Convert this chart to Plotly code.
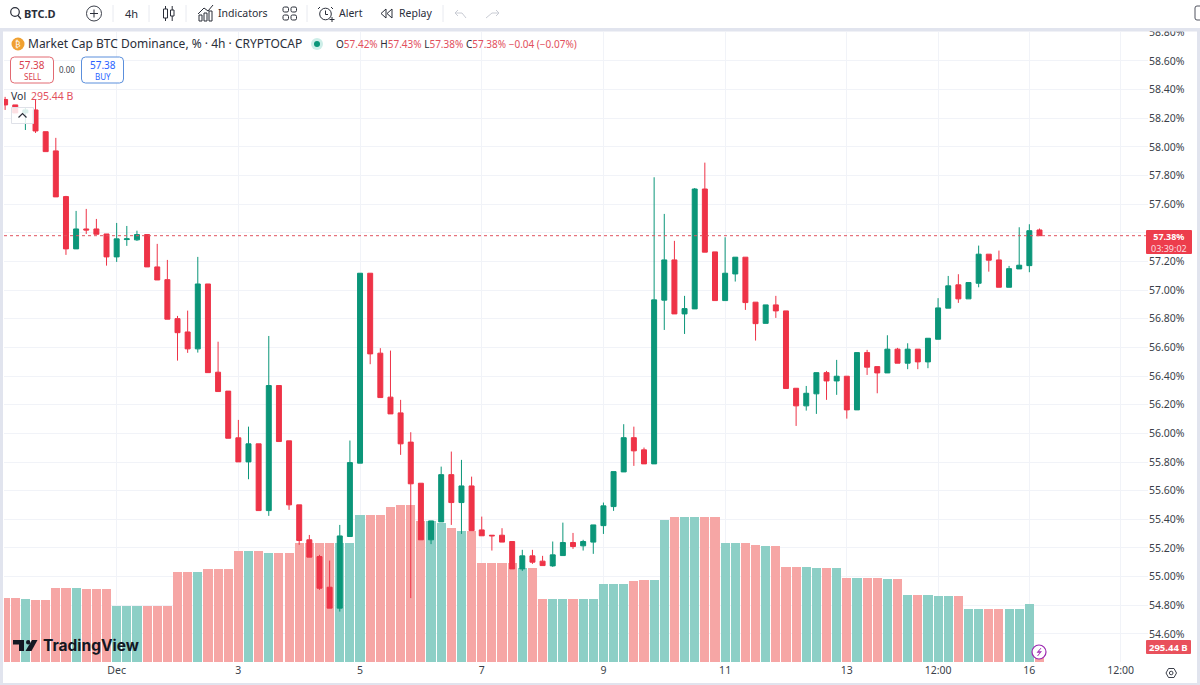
import plotly.graph_objects as go
import pandas as pd

W, H = 1200, 685

# 4h candles, first one 29 Nov 04:00, last one 16 Dec 04:00
times = pd.date_range("2024-11-29 04:00", periods=103, freq="4h")

opens = [58.331, 58.293, 58.237, 58.258, 58.106, 57.972, 57.653, 57.288, 57.427, 57.427, 57.392,
         57.232, 57.353, 57.351, 57.388, 57.162, 57.073, 56.801, 56.708, 56.590, 57.043, 56.427, 56.295,
         55.969, 55.801, 55.927, 55.461, 56.334, 55.948, 55.501, 55.257, 55.140, 54.926, 54.780, 55.280,
         55.792, 57.118, 56.560, 56.253, 56.143, 55.939, 55.652, 55.257, 55.382, 55.712, 55.517, 55.633,
         55.326, 55.289, 55.289, 55.245, 55.054, 55.145, 55.108, 55.075, 55.147, 55.238, 55.215, 55.241,
         55.356, 55.489, 55.731, 55.970, 55.885, 55.787, 56.930, 57.211, 56.834, 56.869, 57.706, 57.267,
         56.927, 57.113, 57.230, 56.916, 56.768, 56.897, 56.855, 56.315, 56.192, 56.276, 56.424, 56.366,
         56.399, 56.164, 56.564, 56.466, 56.422, 56.588, 56.490, 56.588, 56.499, 56.657, 56.874, 57.037,
         56.939, 57.048, 57.251, 57.211, 57.020, 57.148, 57.171, 57.420]
highs = [58.349, 58.293, 58.272, 58.328, 58.106, 58.063, 57.658, 57.553, 57.567, 57.497, 57.392,
         57.469, 57.448, 57.415, 57.388, 57.323, 57.211, 56.820, 56.857, 57.232, 57.043, 56.640, 56.295,
         56.094, 56.047, 55.927, 56.680, 56.334, 55.948, 55.501, 55.291, 55.152, 55.112, 55.361, 55.950,
         57.118, 57.118, 56.595, 56.578, 56.234, 56.008, 55.652, 55.389, 55.768, 55.873, 55.815, 55.698,
         55.419, 55.289, 55.338, 55.245, 55.187, 55.187, 55.145, 55.245, 55.377, 55.305, 55.257, 55.361,
         55.517, 55.733, 56.064, 56.047, 55.901, 57.788, 57.532, 57.344, 56.960, 57.713, 57.890, 57.267,
         57.369, 57.230, 57.230, 56.916, 56.897, 56.960, 56.855, 56.315, 56.331, 56.424, 56.436, 56.513,
         56.399, 56.564, 56.583, 56.466, 56.685, 56.597, 56.629, 56.588, 56.664, 56.944, 57.099, 57.111,
         57.053, 57.311, 57.251, 57.276, 57.169, 57.439, 57.460, 57.430]
lows = [58.258, 58.237, 58.118, 58.097, 57.967, 57.651, 57.246, 57.288, 57.392, 57.390, 57.171,
        57.197, 57.309, 57.344, 57.162, 57.071, 56.797, 56.508, 56.562, 56.564, 56.424, 56.292, 55.966,
        55.801, 55.680, 55.461, 55.424, 55.943, 55.466, 55.222, 55.136, 54.908, 54.780, 54.756, 55.280,
        55.792, 56.483, 56.250, 56.136, 55.850, 54.850, 55.257, 55.227, 55.382, 55.361, 55.298, 55.321,
        55.285, 55.182, 55.241, 55.054, 55.040, 55.089, 55.077, 55.068, 55.147, 55.194, 55.182, 55.159,
        55.298, 55.459, 55.731, 55.773, 55.787, 55.787, 56.722, 56.834, 56.694, 56.869, 57.265, 56.927,
        56.927, 57.060, 56.862, 56.648, 56.768, 56.806, 56.313, 56.052, 56.159, 56.136, 56.234, 56.269,
        56.103, 56.164, 56.408, 56.280, 56.422, 56.490, 56.448, 56.448, 56.455, 56.657, 56.874, 56.911,
        56.939, 57.020, 57.129, 57.020, 57.020, 57.148, 57.125, 57.380]
closes = [58.293, 58.237, 58.258, 58.111, 57.967, 57.651, 57.288, 57.427, 57.420, 57.390, 57.232,
          57.358, 57.358, 57.388, 57.162, 57.071, 56.797, 56.703, 56.590, 57.043, 56.424, 56.292, 55.966,
          55.801, 55.927, 55.461, 56.334, 55.943, 55.501, 55.252, 55.136, 54.919, 54.780, 55.284, 55.796,
          57.118, 56.555, 56.250, 56.136, 55.927, 55.648, 55.257, 55.389, 55.712, 55.517, 55.633, 55.321,
          55.285, 55.285, 55.241, 55.054, 55.145, 55.101, 55.077, 55.152, 55.238, 55.210, 55.245, 55.361,
          55.494, 55.733, 55.970, 55.878, 55.787, 56.932, 57.211, 56.834, 56.871, 57.706, 57.265, 56.927,
          57.118, 57.230, 56.913, 56.766, 56.897, 56.855, 56.313, 56.192, 56.280, 56.424, 56.366, 56.399,
          56.164, 56.564, 56.462, 56.422, 56.588, 56.490, 56.588, 56.499, 56.664, 56.876, 57.030, 56.939,
          57.053, 57.251, 57.209, 57.020, 57.150, 57.174, 57.415, 57.380]
# volume in billions
volumes = [1255, 1255, 1241, 1221, 1221, 1458, 1458, 1458, 1438, 1438, 1438,
           1097, 1097, 1097, 1097, 1097, 1097, 1773, 1773, 1773, 1826, 1838, 1838,
           2181, 2181, 2181, 2147, 2147, 2147, 2338, 2338, 2338, 2338, 2338, 2338,
           2896, 2896, 2896, 3054, 3093, 3093, 2778, 2778, 2744, 2634, 2587, 2587,
           1944, 1944, 1944, 1944, 1852, 1858, 1247, 1247, 1247, 1235, 1235, 1235,
           1537, 1537, 1537, 1596, 1609, 1609, 2803, 2851, 2851, 2862, 2862, 2862,
           2338, 2338, 2338, 2305, 2291, 2291, 1872, 1872, 1872, 1852, 1852, 1852,
           1655, 1655, 1655, 1655, 1635, 1635, 1314, 1314, 1314, 1300, 1300, 1300,
           1050, 1050, 1050, 1050, 1050, 1050, 1143, 295.44]

date_ticks = ["2024-12-01", "2024-12-03", "2024-12-05", "2024-12-07", "2024-12-09", "2024-12-11",
              "2024-12-13", "2024-12-14 12:00", "2024-12-16", "2024-12-17 12:00"]
date_labels = ["Dec", "3", "5", "7", "9", "11", "13", "12:00", "16", "12:00"]

price_ticks = [54.6, 54.8, 55.0, 55.2, 55.4, 55.6, 55.8, 56.0, 56.2, 56.4, 56.6, 56.8,
               57.0, 57.2, 57.4, 57.6, 57.8, 58.0, 58.2, 58.4, 58.6, 58.8]
# 57.40 sits under the last price tag in the reference
price_labels = ["54.60%", "54.80%", "55.00%", "55.20%", "55.40%", "55.60%", "55.80%", "56.00%", "56.20%",
                "56.40%", "56.60%", "56.80%", "57.00%", "57.20%", "", "57.60%", "57.80%", "58.00%", "58.20%",
                "58.40%", "58.60%", "58.80%"]

RED = "#ee3347"
GREEN = "#0b9679"
RED_VOL = "#f6a6a5"
GREEN_VOL = "#8dcfc6"
GRID = "#f1f3f8"
BAND = "#e1e4ee"
INK = "#2a2e39"


def px(x):
    return x / W


def py(y):
    return 1 - y / H


shapes = []
notes = []


def rect(x0, y0, x1, y1, fill="rgba(0,0,0,0)", line=None, lw=1, radius=0):
    if radius:
        r = radius
        d = (f"M{px(x0 + r)},{py(y0)} L{px(x1 - r)},{py(y0)} Q{px(x1)},{py(y0)} {px(x1)},{py(y0 + r)} "
             f"L{px(x1)},{py(y1 - r)} Q{px(x1)},{py(y1)} {px(x1 - r)},{py(y1)} L{px(x0 + r)},{py(y1)} "
             f"Q{px(x0)},{py(y1)} {px(x0)},{py(y1 - r)} L{px(x0)},{py(y0 + r)} Q{px(x0)},{py(y0)} {px(x0 + r)},{py(y0)} Z")
        shapes.append(dict(type="path", xref="paper", yref="paper", path=d, fillcolor=fill,
                           line=dict(color=line or "rgba(0,0,0,0)", width=lw)))
    else:
        shapes.append(dict(type="rect", xref="paper", yref="paper", x0=px(x0), y0=py(y0), x1=px(x1), y1=py(y1),
                           fillcolor=fill, line=dict(color=line or "rgba(0,0,0,0)", width=lw if line else 0)))


def circle(cx, cy, r, fill="rgba(0,0,0,0)", line=None, lw=1):
    shapes.append(dict(type="circle", xref="paper", yref="paper", x0=px(cx - r), y0=py(cy - r),
                       x1=px(cx + r), y1=py(cy + r), fillcolor=fill,
                       line=dict(color=line or "rgba(0,0,0,0)", width=lw if line else 0)))


def poly(points, color=INK, lw=1, fill="rgba(0,0,0,0)", closed=False):
    d = "M" + " L".join(f"{px(x)},{py(y)}" for x, y in points)
    if closed:
        d += " Z"
    shapes.append(dict(type="path", xref="paper", yref="paper", path=d, fillcolor=fill,
                       line=dict(color=color, width=lw)))


def label(x, y, text, size=11, color=INK, anchor="left", font="Noto Sans"):
    notes.append(dict(xref="paper", yref="paper", x=px(x), y=py(y), text=text, showarrow=False,
                      xanchor=anchor, yanchor="middle", borderpad=0, borderwidth=0,
                      font=dict(size=size, color=color, family=font)))


fig = go.Figure()

fig.add_trace(go.Bar(
    x=times, y=volumes, yaxis="y", width=12960000, hoverinfo="skip", showlegend=False,
    marker=dict(color=[GREEN_VOL if c >= o else RED_VOL for o, c in zip(opens, closes)], line=dict(width=0)),
))
fig.add_trace(go.Candlestick(
    x=times, open=opens, high=highs, low=lows, close=closes, yaxis="y2", showlegend=False, hoverinfo="skip",
    whiskerwidth=0,
    increasing=dict(line=dict(color=GREEN, width=1), fillcolor=GREEN),
    decreasing=dict(line=dict(color=RED, width=1), fillcolor=RED),
))

# last price line
shapes.append(dict(type="line", xref="paper", yref="y2", x0=px(4), x1=px(1146), y0=closes[-1], y1=closes[-1],
                   line=dict(color="#e0535f", width=1, dash="dot")))

# frame and toolbar, these also hide the clipped top tick
rect(0, 0, 1200, 28, fill="white")
rect(0, 28, 1200, 31.5, fill=BAND)
rect(0, 28, 3, 685, fill=BAND)
rect(1197, 28, 1200, 685, fill=BAND)
rect(0, 683, 1200, 685, fill=BAND)
rect(1195, 6, 1204, 20, line="#50535e", lw=1, radius=2)

for x in [113, 149, 186, 307, 443]:
    poly([(x, 5), (x, 22)], color="#e8eaf0", lw=1)

# search
circle(15, 12, 4.3, line=INK, lw=1.2)
poly([(18, 15.5), (21, 19)], lw=1.2)
label(24, 13, "<b>BTC.D</b>", size=11)
# add symbol
circle(94, 13.5, 7.5, line="#3b3f4a", lw=1)
poly([(94, 9.5), (94, 17.5)])
poly([(90, 13.5), (98, 13.5)])
label(131, 13.5, "4h", size=11, anchor="center")
# candle type
rect(163.5, 9, 167.5, 18, line=INK)
poly([(165.5, 6), (165.5, 9)])
poly([(165.5, 18), (165.5, 21)])
rect(170.5, 10, 174, 16, line=INK)
poly([(172.2, 6), (172.2, 10)])
poly([(172.2, 16), (172.2, 21)])
# indicators
poly([(198, 14), (204, 8), (208, 11), (213, 5)], lw=1)
rect(199, 15, 202, 21, line=INK)
rect(204, 13, 207, 21, line=INK)
rect(209, 11, 212, 21, line=INK)
label(218, 13.5, "Indicators", size=10.5)
# layouts
for gx, gy in [(283, 7), (291, 7), (283, 15), (291, 15)]:
    rect(gx, gy, gx + 5.5, gy + 5, line=INK, radius=1.5)
# alert
circle(325.5, 14, 5.8, line=INK)
poly([(325.5, 10.5), (325.5, 14.5), (328, 14.5)])
poly([(320, 7), (318, 9)])
poly([(331, 7), (333, 9)])
poly([(332, 17), (332, 22)])
poly([(329.5, 19.5), (334.5, 19.5)])
label(339, 13.5, "Alert", size=10.5)
# replay
poly([(386, 9), (381, 13.5), (386, 18)], closed=True)
poly([(392, 9), (387, 13.5), (392, 18)], closed=True)
label(399, 13.5, "Replay", size=10.5)
# undo, redo
poly([(458, 10), (455, 13), (458, 16)], color="#c9ccd4")
poly([(455, 13), (462, 13), (466, 18)], color="#c9ccd4")
poly([(496, 10), (499, 13), (496, 16)], color="#c9ccd4")
poly([(499, 13), (492, 13), (486, 18)], color="#c9ccd4")

# legend line
circle(18, 44, 6.5, fill="#f0a030")
label(18, 44, "₿", size=8, color="white", anchor="center", font="DejaVu Sans")
label(28, 44, "Market Cap BTC Dominance, % · 4h · CRYPTOCAP", size=12)
circle(317, 44, 6, fill="#cdeee8")
circle(317, 44, 3, fill="#0b9679")
ohlc_red = "#e2505d"
label(336, 44,
      f'O<span style="color:{ohlc_red}">57.42%</span> H<span style="color:{ohlc_red}">57.43%</span> '
      f'L<span style="color:{ohlc_red}">57.38%</span> C<span style="color:{ohlc_red}">57.38%</span> '
      f'<span style="color:{ohlc_red}">−0.04 (−0.07%)</span>', size=10)

# sell / buy boxes
rect(10.5, 57, 53.5, 83, fill="white", line="#e26a72", radius=4)
label(32, 64.5, "57.38", size=10, color="#d9414e", anchor="center")
label(32, 76.5, "SELL", size=8, color="#d9414e", anchor="center")
label(67, 70, "0.00", size=8, color="#3b3f4a", anchor="center")
rect(81.5, 57, 123.5, 83, fill="white", line="#5b8fdc", radius=4)
label(102.5, 64.5, "57.38", size=10, color="#2962ff", anchor="center")
label(102.5, 76.5, "BUY", size=8, color="#2962ff", anchor="center")

# volume legend and collapse button
label(11, 96, "Vol", size=10.5)
label(31, 96, "295.44 B", size=10.5, color="#e2505d")
rect(11.5, 107.5, 33.5, 123.5, fill="rgba(255,255,255,0.85)", line="#dfe1e8")
poly([(18.5, 117.5), (22.5, 113.5), (26.5, 117.5)], color=INK, lw=1.2)

# price tags
rect(1146, 230, 1192, 254, fill="#ed3d4c", radius=1)
label(1169, 242, '<b>57.38%</b><br><span style="color:#fbdfe1">03:39:02</span>', size=9, color="white",
      anchor="center")
rect(1146, 640, 1191, 654, fill="#e9515c", radius=1)
label(1168.5, 647.5, "<b>295.44 B</b>", size=9.5, color="white", anchor="center")

# lightning marker
circle(1039, 652, 7, fill="white", line="#9c27b0", lw=1.2)
poly([(1041, 648), (1037, 652.5), (1040, 652.5), (1037.5, 656), (1041.5, 651.5), (1038.5, 651.5)],
     color="#9c27b0", lw=0.5, fill="#9c27b0", closed=True)

# settings hexagon
poly([(1166, 673), (1168.5, 668.5), (1174, 668.5), (1176.5, 673), (1174, 677.5), (1168.5, 677.5)],
     color="#3b3f4a", closed=True)
circle(1171.2, 673, 1.8, line="#3b3f4a")

# logo
poly([(13, 640), (24, 640), (24, 651), (19, 651), (19, 644.5), (13, 644.5)], color="#131722", lw=0, fill="#131722",
     closed=True)
circle(28.2, 642.2, 2.2, fill="#131722")
poly([(32, 640), (37.5, 640), (31.5, 651), (25.5, 651)], color="#131722", lw=0, fill="#131722", closed=True)
label(43, 645.5, "<b>TradingView</b>", size=15.5, color="#131722", font="Inter")

fig.update_layout(
    width=W, height=H, autosize=False,
    margin=dict(l=0, r=0, t=0, b=0, autoexpand=False),
    paper_bgcolor="white", plot_bgcolor="white",
    barmode="overlay", bargap=0, boxgap=0.3,
    shapes=shapes, annotations=notes,
    xaxis=dict(
        type="date", domain=[px(4), px(1148)], range=["2024-11-29 03:33:36", "2024-12-17 22:48:00"],
        tickvals=date_ticks, ticktext=date_labels, ticks="", tickangle=0, automargin=False,
        showgrid=True, gridcolor=GRID, gridwidth=1, showline=False, zeroline=False,
        rangeslider=dict(visible=False),
        tickfont=dict(family="Noto Sans", size=10.5, color="#3b3f4a"),
    ),
    yaxis=dict(
        domain=[py(662), py(32)], range=[0, 12411], showgrid=False, showticklabels=False,
        zeroline=False, showline=False, automargin=False,
    ),
    yaxis2=dict(
        overlaying="y", side="right", anchor="x", range=[54.404, 58.802],
        tickvals=price_ticks, ticktext=price_labels, ticks="", showgrid=True, gridcolor=GRID, gridwidth=1,
        zeroline=False, showline=False, automargin=False,
        tickfont=dict(family="Noto Sans", size=10.5, color="#3b3f4a"),
    ),
)

fig.write_html("out.html", config=dict(displayModeBar=False),
               post_script="document.body.style.margin='0';document.body.style.overflow='hidden';")
